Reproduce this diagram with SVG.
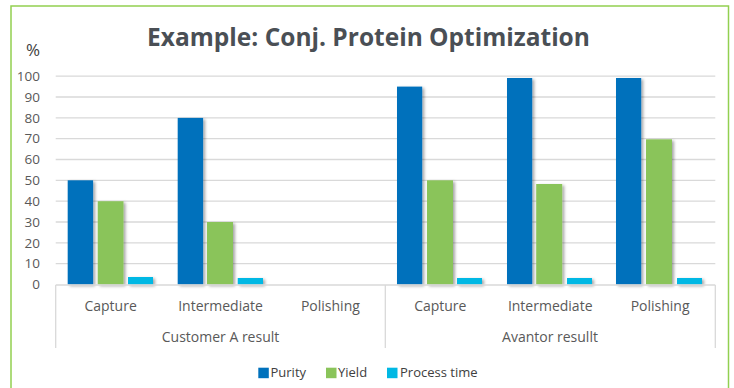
<svg xmlns="http://www.w3.org/2000/svg" width="734" height="388" viewBox="0 0 734 388">
<defs>
<filter id="sh" x="-30%" y="-10%" width="160%" height="130%">
<feDropShadow dx="2" dy="1.5" stdDeviation="1.6" flood-color="#000" flood-opacity="0.35"/>
</filter>
<style>
.grid{stroke:#D9D9D9;stroke-width:1.3}
.ax{stroke:#D9D9D9;stroke-width:1.3;fill:none}
.tick{font-family:"Open Sans","Liberation Sans",sans-serif;font-size:13.5px;fill:#595959;text-anchor:end}
.cat{font-family:"Open Sans","Liberation Sans",sans-serif;font-size:14px;fill:#595959;text-anchor:middle}
.leg{font-family:"Open Sans","Liberation Sans",sans-serif;font-size:13px;fill:#404040}
.p{fill:#0071BC}
.y{fill:#8AC45A}
.t{fill:#00B8E4}
</style>
</defs>
<rect x="0" y="0" width="734" height="388" fill="#FFFFFF"/>
<rect x="11" y="6" width="717.5" height="400" fill="none" stroke="#92D050" stroke-width="1.5"/>
<text x="368.5" y="45.5" font-family="'Open Sans','Liberation Sans',sans-serif" font-weight="700" font-size="24.5" fill="#4A4F55" text-anchor="middle">Example: Conj. Protein Optimization</text>
<text x="40" y="56" font-family="'Open Sans','Liberation Sans',sans-serif" font-size="17" fill="#404040" text-anchor="end">%</text>
<g id="gridlines">
<line class="grid" x1="55.7" y1="76.2" x2="715.3" y2="76.2"/>
<line class="grid" x1="55.7" y1="97.0" x2="715.3" y2="97.0"/>
<line class="grid" x1="55.7" y1="117.9" x2="715.3" y2="117.9"/>
<line class="grid" x1="55.7" y1="138.7" x2="715.3" y2="138.7"/>
<line class="grid" x1="55.7" y1="159.5" x2="715.3" y2="159.5"/>
<line class="grid" x1="55.7" y1="180.3" x2="715.3" y2="180.3"/>
<line class="grid" x1="55.7" y1="201.2" x2="715.3" y2="201.2"/>
<line class="grid" x1="55.7" y1="222.0" x2="715.3" y2="222.0"/>
<line class="grid" x1="55.7" y1="242.8" x2="715.3" y2="242.8"/>
<line class="grid" x1="55.7" y1="263.7" x2="715.3" y2="263.7"/>
</g>
<g id="yaxis">
<text class="tick" x="40" y="81">100</text>
<text class="tick" x="40" y="101.8">90</text>
<text class="tick" x="40" y="122.6">80</text>
<text class="tick" x="40" y="143.4">70</text>
<text class="tick" x="40" y="164.2">60</text>
<text class="tick" x="40" y="185">50</text>
<text class="tick" x="40" y="205.9">40</text>
<text class="tick" x="40" y="226.7">30</text>
<text class="tick" x="40" y="247.5">20</text>
<text class="tick" x="40" y="268.4">10</text>
<text class="tick" x="40" y="289.2">0</text>
</g>
<g id="bars" filter="url(#sh)">
<rect class="p" x="67.7" y="180.3" width="25.4" height="104.2"/>
<rect class="y" x="97.7" y="201.2" width="25.8" height="83.3"/>
<rect class="t" x="128" y="277" width="25" height="7.5"/>
<rect class="p" x="177.7" y="117.9" width="25.4" height="166.6"/>
<rect class="y" x="207" y="222" width="26" height="62.5"/>
<rect class="t" x="237.7" y="278" width="25.3" height="6.5"/>
<rect class="p" x="397" y="86.6" width="25.2" height="197.9"/>
<rect class="y" x="427" y="180.3" width="26" height="104.2"/>
<rect class="t" x="457" y="278" width="25" height="6.5"/>
<rect class="p" x="507" y="78" width="25.2" height="206.5"/>
<rect class="y" x="536.2" y="184" width="26" height="100.5"/>
<rect class="t" x="567" y="278" width="25" height="6.5"/>
<rect class="p" x="616" y="78" width="25.2" height="206.5"/>
<rect class="y" x="646" y="139.3" width="26" height="145.2"/>
<rect class="t" x="677" y="278" width="25" height="6.5"/>
</g>
<g id="xaxis">
<path class="ax" d="M55.7 285 H715.3 M55.7 285 V348 M385.3 285 V348 M715.3 285 V348"/>
<text class="cat" x="110.6" y="311">Capture</text>
<text class="cat" x="220.5" y="311">Intermediate</text>
<text class="cat" x="330.4" y="311">Polishing</text>
<text class="cat" x="440.3" y="311">Capture</text>
<text class="cat" x="550.2" y="311">Intermediate</text>
<text class="cat" x="660.1" y="311">Polishing</text>
<text class="cat" x="220.5" y="342">Customer A result</text>
<text class="cat" x="550" y="342">Avantor resullt</text>
</g>
<g id="legend">
<rect class="p" x="258.3" y="367.7" width="10.5" height="10.5"/>
<text class="leg" x="270.5" y="377">Purity</text>
<rect class="y" x="326" y="367.7" width="10.5" height="10.5"/>
<text class="leg" x="338" y="377">Yield</text>
<rect class="t" x="387" y="367.7" width="10.5" height="10.5"/>
<text class="leg" x="400" y="377">Process time</text>
</g>
</svg>
